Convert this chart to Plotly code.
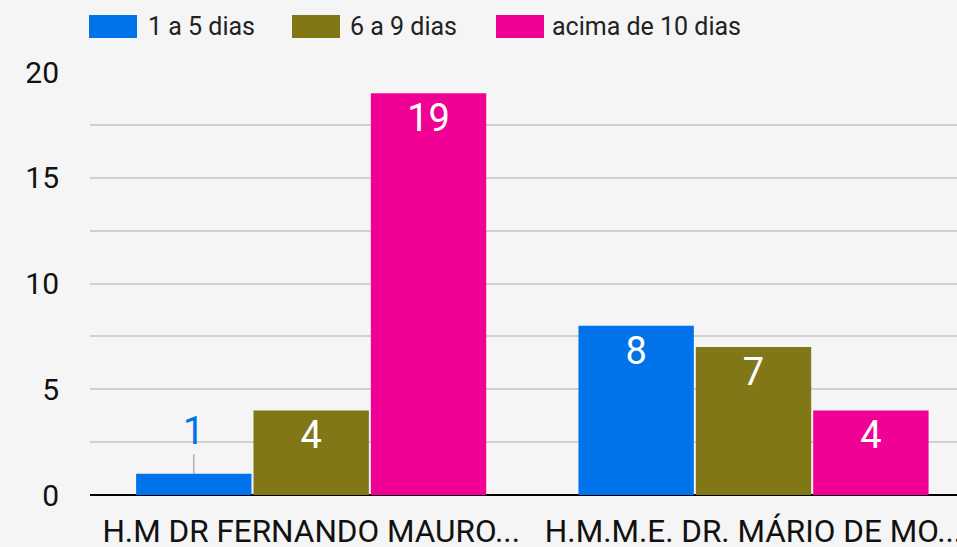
import plotly.graph_objects as go

categories = ["H.M DR FERNANDO MAURO...", "H.M.M.E. DR. MÁRIO DE MO..."]
series_names = ["1 a 5 dias", "6 a 9 dias", "acima de 10 dias"]
series_values = [
    [1, 8],
    [4, 7],
    [19, 4],
]
colors = ["#0073ea", "#827717", "#f10096"]
y_ticks = [0, 5, 10, 15, 20]

W, H = 957, 547
ML, MR, MT, MB = 90, 0, 72, 52
BARGAP = 0.204
BARGROUPGAP = 0.017

fig = go.Figure()
n = len(series_names)
annotations = []
for i, (name, vals, col) in enumerate(zip(series_names, series_values, colors)):
    txt = [str(v) if v >= 2 else "" for v in vals]
    fig.add_trace(go.Bar(
        name=name, x=categories, y=vals, marker=dict(color=col, line=dict(width=0)),
        text=txt, textposition="inside", insidetextanchor="end",
        textfont=dict(color="white", size=38, family="Roboto"),
        textangle=0, showlegend=False, cliponaxis=False, hoverinfo="skip",
    ))
    slot = (1 - BARGAP) / n
    for j, v in enumerate(vals):
        if v < 2:
            xc = j - (1 - BARGAP) / 2 + slot * (i + 0.5)
            annotations.append(dict(
                x=xc, y=v, xref="x", yref="y", text=str(v), showarrow=True,
                arrowhead=0, arrowwidth=1.2, arrowcolor="#9e9e9e", ax=0, ay=-43,
                standoff=0, font=dict(color=col, size=38, family="Roboto"),
            ))

# custom legend (large rectangular swatches)
plot_w = W - ML - MR
plot_h = H - MT - MB
legend_px = [89, 292, 496]
text_off = [57, 56, 54]
for name, col, lx, off in zip(series_names, colors, legend_px, text_off):
    x0 = (lx - ML) / plot_w
    x1 = (lx + 48 - ML) / plot_w
    y0 = (H - MB - 38) / plot_h
    y1 = (H - MB - 15) / plot_h
    fig.add_shape(type="rect", xref="paper", yref="paper", x0=x0, x1=x1, y0=y0, y1=y1,
                  fillcolor=col, line=dict(width=0))
    annotations.append(dict(
        x=(lx + off - ML) / plot_w, y=(H - MB - 26.5) / plot_h, xref="paper", yref="paper",
        text=name, showarrow=False, xanchor="left", yanchor="middle",
        font=dict(size=25, color="#222222", family="Roboto"),
    ))

fig.update_layout(
    width=W, height=H,
    margin=dict(l=ML, r=MR, t=MT, b=MB),
    paper_bgcolor="#f5f5f5", plot_bgcolor="#f5f5f5",
    barmode="group", bargap=BARGAP, bargroupgap=BARGROUPGAP,
    font=dict(family="Roboto", color="#222222"),
    annotations=annotations,
    showlegend=False,
)
fig.update_xaxes(
    type="category", range=[-0.5, 1.46], showgrid=False, showline=False, automargin=False,
    tickfont=dict(size=31.5, color="#111111"), ticks="", ticklabelstandoff=14,
)
fig.update_yaxes(
    range=[0, 20], tickvals=y_ticks, showgrid=True, gridcolor="#d0d0d0", gridwidth=2,
    minor=dict(dtick=2.5, showgrid=True, gridcolor="#d0d0d0", gridwidth=2),
    zeroline=True, zerolinecolor="#000000", zerolinewidth=2, automargin=False,
    tickfont=dict(size=30, color="#111111"), ticks="", ticklabelstandoff=30,
    showline=False,
)
fig.write_html(
    "out.html",
    config={"displayModeBar": False},
    post_script=(
        "document.body.style.margin='0';"
        "document.body.style.overflow='hidden';"
        "document.documentElement.style.overflow='hidden';"
        "document.body.style.background='#f5f5f5';"
    ),
)
